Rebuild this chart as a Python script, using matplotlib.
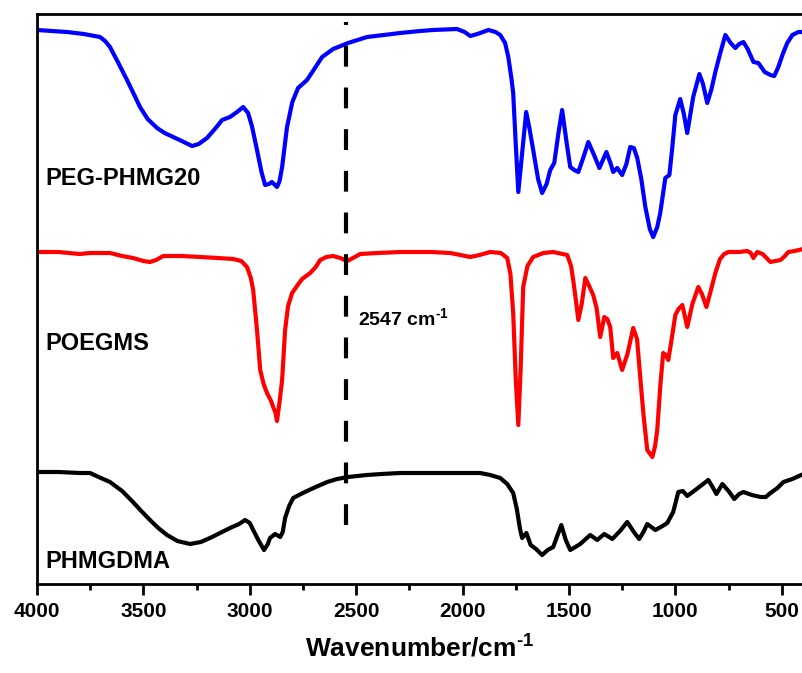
import matplotlib
matplotlib.use('Agg')
import matplotlib.pyplot as plt
import numpy as np

plt.rcParams['font.family'] = ['Liberation Sans', 'DejaVu Sans']
plt.rcParams['font.weight'] = 'bold'
plt.rcParams['mathtext.fontset'] = 'custom'
plt.rcParams['mathtext.bf'] = 'Liberation Sans:bold'
plt.rcParams['mathtext.rm'] = 'Liberation Sans:bold'
plt.rcParams['mathtext.default'] = 'bf'

# (wavenumber, offset transmittance a.u.)
peg = [(4000, 554), (3930, 553), (3859, 552), (3780, 550), (3704, 547), (3680, 543), (3657, 537),
       (3620, 522), (3577, 504), (3545, 490), (3516, 477), (3480, 465), (3436, 456), (3400, 451),
       (3360, 447), (3320, 443), (3271, 438), (3240, 440), (3201, 446), (3160, 456), (3130, 464),
       (3093, 467), (3060, 472), (3031, 477), (3008, 471), (2990, 458), (2966, 434), (2945, 412),
       (2928, 399), (2910, 400), (2896, 402), (2872, 397), (2860, 403), (2848, 417), (2825, 457),
       (2800, 482), (2773, 496), (2731, 504), (2700, 514), (2660, 527), (2608, 535), (2573, 538),
       (2538, 541), (2449, 547), (2370, 549), (2293, 551), (2200, 553), (2138, 554), (2026, 555),
       (1990, 552), (1964, 548), (1930, 550), (1879, 554), (1845, 552), (1823, 549), (1800, 541),
       (1785, 527), (1770, 505), (1762, 491), (1750, 440), (1738, 392), (1725, 420), (1701, 472),
       (1685, 455), (1668, 434), (1645, 405), (1626, 391), (1605, 400), (1588, 414), (1569, 421),
       (1550, 450), (1532, 474), (1510, 440), (1494, 417), (1475, 414), (1456, 412), (1430, 428),
       (1409, 442), (1380, 428), (1357, 416), (1324, 432), (1305, 421), (1292, 412), (1273, 416),
       (1250, 409), (1230, 420), (1212, 437), (1195, 436), (1179, 426), (1160, 405), (1141, 377),
       (1120, 355), (1104, 347), (1085, 357), (1071, 371), (1047, 406), (1028, 409), (1015, 435),
       (1000, 469), (977, 485), (960, 470), (944, 451), (916, 487), (887, 510), (870, 500),
       (850, 481), (830, 495), (812, 512), (790, 530), (765, 549), (740, 541), (718, 536),
       (700, 540), (680, 542), (660, 535), (633, 522), (610, 521), (580, 512), (553, 509),
       (535, 508), (516, 517), (495, 530), (474, 541), (450, 549), (422, 552), (398, 552)]

poe = [(4000, 332), (3900, 332), (3800, 330), (3751, 331), (3700, 331), (3657, 331), (3600, 328),
       (3549, 326), (3500, 323), (3469, 322), (3440, 324), (3407, 328), (3320, 328), (3234, 327),
       (3150, 326), (3078, 325), (3040, 323), (3013, 317), (2995, 306), (2984, 294), (2966, 254),
       (2951, 214), (2935, 200), (2919, 191), (2900, 183), (2890, 177), (2880, 172), (2872, 163),
       (2860, 182), (2848, 204), (2834, 254), (2820, 278), (2801, 291), (2775, 299), (2754, 305),
       (2716, 311), (2690, 317), (2669, 324), (2640, 327), (2608, 328), (2575, 326), (2542, 323),
       (2515, 326), (2481, 330), (2400, 331), (2293, 332), (2150, 332), (2058, 331), (2010, 329),
       (1964, 327), (1920, 329), (1870, 332), (1820, 331), (1790, 326), (1775, 310), (1762, 271),
       (1750, 205), (1738, 159), (1727, 215), (1715, 297), (1695, 318), (1668, 327), (1620, 331),
       (1574, 332), (1508, 329), (1490, 318), (1480, 304), (1468, 285), (1456, 264), (1440, 280),
       (1423, 306), (1405, 298), (1386, 289), (1370, 276), (1353, 247), (1334, 267), (1320, 265),
       (1306, 257), (1292, 226), (1273, 231), (1250, 214), (1225, 230), (1198, 256), (1180, 245),
       (1165, 207), (1150, 170), (1132, 134), (1108, 127), (1095, 138), (1085, 154), (1070, 200),
       (1057, 231), (1045, 229), (1033, 224), (1015, 248), (1000, 269), (985, 275), (967, 279),
       (944, 257), (920, 280), (892, 297), (875, 290), (854, 277), (835, 292), (812, 311),
       (790, 325), (770, 330), (751, 332), (700, 332), (662, 333), (645, 331), (633, 326),
       (615, 332), (590, 330), (553, 322), (506, 324), (485, 328), (469, 332), (440, 333), (398, 335)]

phm = [(4000, 112), (3900, 112), (3800, 111), (3751, 111), (3700, 106), (3657, 102), (3600, 93),
       (3549, 82), (3510, 73), (3469, 64), (3430, 56), (3389, 49), (3340, 43), (3281, 40),
       (3230, 42), (3187, 46), (3140, 51), (3093, 56), (3050, 60), (3022, 64), (3000, 61),
       (2984, 54), (2960, 44), (2933, 34), (2915, 40), (2905, 46), (2881, 50), (2857, 47),
       (2845, 52), (2834, 66), (2815, 78), (2796, 86), (2760, 90), (2731, 93), (2690, 97),
       (2636, 102), (2590, 105), (2538, 107), (2450, 109), (2380, 110), (2293, 111), (2138, 111),
       (1917, 111), (1870, 109), (1823, 106), (1790, 100), (1762, 91), (1745, 75), (1730, 55),
       (1720, 46), (1700, 51), (1680, 39), (1655, 35), (1626, 29), (1600, 34), (1574, 37),
       (1555, 48), (1536, 59), (1515, 44), (1494, 34), (1470, 37), (1447, 40), (1400, 49),
       (1367, 44), (1334, 50), (1296, 45), (1260, 53), (1226, 62), (1195, 52), (1170, 45),
       (1150, 52), (1132, 60), (1094, 54), (1060, 58), (1038, 61), (1010, 72), (986, 92),
       (965, 93), (944, 88), (900, 95), (845, 104), (825, 97), (807, 90), (779, 100), (750, 93),
       (723, 85), (700, 90), (680, 92), (640, 89), (600, 87), (575, 87), (553, 91), (520, 96),
       (492, 102), (450, 105), (398, 110)]

names = ['PEG-PHMG20', 'POEGMS', 'PHMGDMA']
colors = ['#0000ff', '#ff0000', 'black']
label_pos = [(3962, 399), (3962, 234), (3962, 16)]
mark_wn = 2547
mark_text = '2547 cm$^{\\text{-1}}$'

fig = plt.figure(figsize=(8.03, 6.73), dpi=100)
ax = fig.add_axes([37 / 803, 89 / 673, 766 / 803, 570 / 673])

for data, c in zip([peg, poe, phm], colors):
    x, y = zip(*data)
    ax.plot(x, y, color=c, lw=3, solid_joinstyle='round')

ax.vlines(mark_wn, 59, 562, colors='black', lw=3, linestyles=(0, (5, 5)))
ax.text(2491, 259, mark_text, fontsize=14, fontweight='bold')

for n, (x, y) in zip(names, label_pos):
    ax.text(x, y, n, fontsize=17, fontweight='bold', va='baseline')

ax.set_xlim(4000, 400)
ax.set_ylim(0, 570)
ax.set_yticks([])
ax.set_xticks(np.arange(4000, 499, -500))
ax.set_xticks(np.arange(3750, 399, -500), minor=True)
ax.tick_params(axis='x', which='major', length=8, width=2, labelsize=15, pad=5)
ax.tick_params(axis='x', which='minor', length=4.5, width=2)
for lab in ax.get_xticklabels():
    lab.set_fontweight('bold')
for s in ['left', 'top', 'bottom']:
    ax.spines[s].set_linewidth(2)
ax.spines['right'].set_visible(False)

ax.set_xlabel('Wavenumber/cm$^{\\text{-1}}$', fontsize=19, fontweight='bold', labelpad=10)

fig.savefig('out.png', dpi=100)
